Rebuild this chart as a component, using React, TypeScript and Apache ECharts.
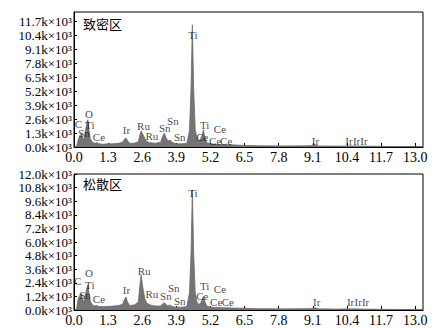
import React, { useEffect, useRef } from "react";
import * as echarts from "echarts";

// Energy (keV) of spectrum points, shared by both spectra
const energy = [
  0.0, 0.1, 0.15, 0.2, 0.25, 0.28, 0.32, 0.36, 0.4, 0.45, 0.5, 0.53, 0.57, 0.62, 0.7, 0.8, 0.88, 0.95,
  1.1, 1.3, 1.5, 1.7, 1.85, 1.93, 1.98, 2.04, 2.12, 2.3, 2.45, 2.52, 2.56, 2.62, 2.7, 2.78, 2.9,
  3.1, 3.3, 3.38, 3.44, 3.5, 3.58, 3.66, 3.74, 3.9, 4.1, 4.3, 4.4, 4.46, 4.51, 4.56, 4.62, 4.7,
  4.8, 4.88, 4.93, 4.98, 5.06, 5.2, 5.4, 5.7, 6.0, 6.5, 7.0, 8.0, 9.0, 9.18, 9.3, 10.0, 10.7,
  11.0, 12.0, 13.0, 13.3,
];
// Counts (k) - 致密区
const denseCounts = [
  0.0, 0.05, 0.6, 0.9, 1.1, 1.25, 0.9, 0.7, 1.0, 1.7, 2.4, 2.55, 1.6, 0.8, 0.45, 0.35, 0.4, 0.3,
  0.25, 0.3, 0.3, 0.35, 0.45, 0.75, 0.85, 0.6, 0.35, 0.35, 0.5, 1.2, 1.5, 1.2, 0.8, 0.5, 0.4,
  0.35, 0.45, 1.0, 1.3, 0.9, 0.55, 0.65, 0.45, 0.3, 0.3, 0.35, 1.5, 5.5, 11.4, 5.5, 1.6, 0.7,
  0.6, 1.1, 1.6, 1.0, 0.4, 0.3, 0.25, 0.2, 0.2, 0.15, 0.12, 0.1, 0.12, 0.2, 0.1, 0.08, 0.1,
  0.08, 0.05, 0.04, 0.03,
];
// Counts (k) - 松散区
const looseCounts = [
  0.0, 0.05, 0.9, 1.2, 1.4, 1.45, 1.0, 0.7, 1.0, 1.5, 2.0, 2.2, 1.5, 0.8, 0.45, 0.35, 0.4, 0.3,
  0.3, 0.3, 0.35, 0.4, 0.5, 0.95, 1.15, 0.7, 0.4, 0.45, 0.7, 2.4, 3.1, 2.0, 1.0, 0.6, 0.45,
  0.35, 0.35, 0.55, 0.65, 0.5, 0.35, 0.45, 0.3, 0.25, 0.25, 0.3, 1.5, 5.0, 10.6, 5.0, 1.5, 0.6,
  0.5, 0.9, 1.2, 0.8, 0.35, 0.25, 0.22, 0.2, 0.18, 0.15, 0.12, 0.1, 0.12, 0.2, 0.1, 0.08, 0.1,
  0.08, 0.05, 0.04, 0.03,
];

// Peak labels: [energy, counts(k), element]
const denseLabels: [number, number, string][] = [
  [4.53, 10.5, "Ti"], [0.57, 3.05, "O"], [0.17, 2.15, "C"], [0.6, 2.06, "Ti"], [0.38, 1.3, "Sn"],
  [0.95, 0.94, "Ce"], [2.0, 1.6, "Ir"], [2.65, 1.97, "Ru"], [2.97, 1.03, "Ru"], [3.46, 1.78, "Sn"],
  [3.77, 2.43, "Sn"], [4.03, 0.94, "Sn"], [4.98, 2.05, "Ti"], [4.89, 0.9, "Ce"], [5.56, 1.69, "Ce"],
  [5.38, 0.56, "Ce"], [5.8, 0.56, "Ce"], [9.2, 0.56, "Ir"], [10.48, 0.56, "Ir"], [10.77, 0.56, "Ir"],
  [11.05, 0.56, "Ir"],
];
const looseLabels: [number, number, string][] = [
  [4.53, 10.3, "Ti"], [0.57, 3.3, "O"], [0.14, 2.56, "C"], [0.6, 2.2, "Ti"], [0.42, 1.3, "Sn"],
  [0.95, 0.97, "Ce"], [2.0, 1.76, "Ir"], [2.67, 3.44, "Ru"], [2.97, 1.41, "Ru"], [3.5, 1.24, "Sn"],
  [3.8, 1.94, "Sn"], [4.03, 0.79, "Sn"], [4.98, 2.1, "Ti"], [4.89, 1.2, "Ce"], [5.56, 1.85, "Ce"],
  [5.42, 0.7, "Ce"], [5.86, 0.7, "Ce"], [9.25, 0.7, "Ir"], [10.54, 0.7, "Ir"], [10.83, 0.7, "Ir"],
  [11.11, 0.7, "Ir"],
];

const panelTitles = ["致密区", "松散区"];
const xTickInterval = 1.3;
const yTickIntervals = [1.3, 1.2];
const yMaxes = [12.6, 12.0];

const FONT = "'Liberation Serif', 'DejaVu Serif', serif";

export default function App() {
  const ref = useRef<HTMLDivElement>(null);
  useEffect(() => {
    if (!ref.current) return;
    const chart = echarts.init(ref.current, undefined, { renderer: "svg" });
    const grids = [
      { left: 74, right: 14, top: 12, height: 135 },
      { left: 74, right: 14, top: 174, height: 136 },
    ];
    const xAxis = [0, 1].map((i) => ({
      type: "value",
      gridIndex: i,
      min: 0,
      max: 13.3,
      interval: xTickInterval,
      axisLine: { show: true, lineStyle: { color: "#000", width: 1.2 } },
      axisTick: { show: true, inside: true, length: 4, lineStyle: { color: "#000" } },
      axisLabel: {
        showMaxLabel: false,
        color: "#000",
        fontFamily: FONT,
        fontSize: 14,
        margin: 3,
        formatter: (v: number) => v.toFixed(1),
      },
      splitLine: { show: false },
    }));
    const yAxis = [0, 1].map((i) => ({
      type: "value",
      gridIndex: i,
      min: 0,
      max: yMaxes[i],
      interval: yTickIntervals[i],
      axisLine: { show: true, lineStyle: { color: "#000", width: 1 } },
      axisTick: { show: true, inside: true, length: 3, lineStyle: { color: "#000" } },
      axisLabel: {
        showMaxLabel: i === 1,
        color: "#000",
        fontFamily: FONT,
        fontSize: 13,
        margin: 2,
        formatter: (v: number) => v.toFixed(1) + "k×10³",
      },
      splitLine: { show: false },
    }));
    const spectra = [denseCounts, looseCounts];
    const labels = [denseLabels, looseLabels];
    const series: any[] = [];
    [0, 1].forEach((i) => {
      series.push({
        type: "line",
        xAxisIndex: i,
        yAxisIndex: i,
        data: energy.map((e, k) => [e, spectra[i][k]]),
        showSymbol: false,
        symbol: "none",
        lineStyle: { color: "#6c6c6c", width: 0.8 },
        areaStyle: { color: "#747474", opacity: 1 },
        z: 2,
      });
      series.push({
        type: "scatter",
        xAxisIndex: i,
        yAxisIndex: i,
        symbolSize: 0.1,
        itemStyle: { color: "rgba(0,0,0,0)" },
        data: labels[i].map(([e, c, n]) => ({ value: [e, c], name: n })),
        label: {
          show: true,
          position: "inside",
          formatter: (p: any) => p.name,
          color: "#111",
          fontFamily: FONT,
          fontSize: 11,
        },
        z: 5,
      });
    });
    chart.setOption({
      animation: false,
      backgroundColor: "#fff",
      grid: grids.map((g) => ({ ...g, show: true, borderColor: "#000", borderWidth: 1, backgroundColor: "transparent" })),
      xAxis,
      yAxis,
      series,
      graphic: [
        { type: "text", left: 83, top: 17, style: { text: panelTitles[0], font: "13px 'Noto Sans CJK SC', serif", fill: "#000" } },
        { type: "text", left: 83, top: 177, style: { text: panelTitles[1], font: "13px 'Noto Sans CJK SC', serif", fill: "#000" } },
      ],
    });
    return () => chart.dispose();
  }, []);
  return (
    <div
      ref={ref}
      style={{ position: "fixed", left: 0, top: 0, width: 437, height: 328, background: "#fff" }}
    />
  );
}
